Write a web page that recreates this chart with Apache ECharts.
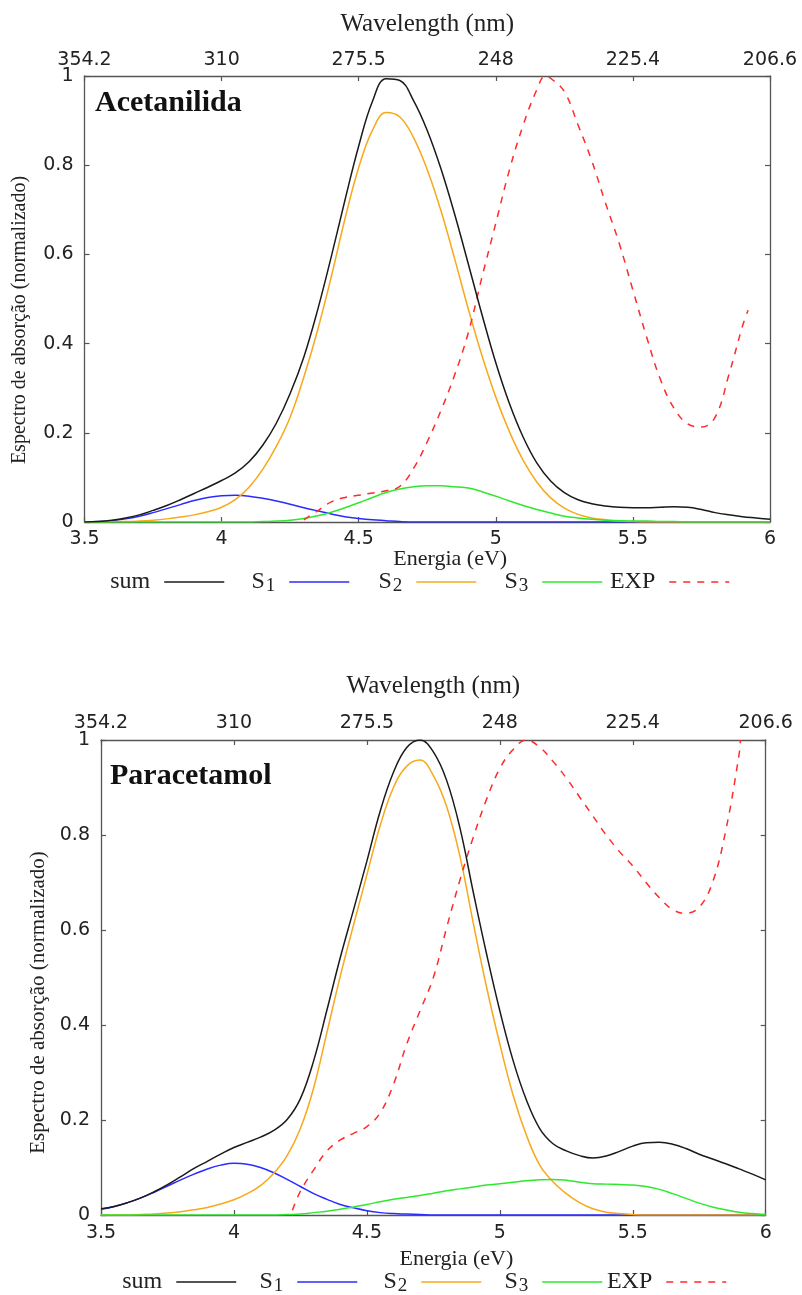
<!DOCTYPE html>
<html><head><meta charset="utf-8">
<script src="https://cdn.jsdelivr.net/npm/echarts@6/dist/echarts.min.js"></script>
<style>html,body{margin:0;padding:0;background:#fff}#c{width:802px;height:1295px}</style>
</head><body><div id="c"></div>
<script>
// ---------- data ----------
const energy = [3.50,3.55,3.60,3.65,3.70,3.75,3.80,3.85,3.90,3.95,4.00,4.05,4.10,4.15,4.20,4.25,4.30,4.35,4.40,4.45,4.50,4.55,4.60,4.65,4.70,4.75,4.80,4.85,4.90,4.95,5.00,5.05,5.10,5.15,5.20,5.25,5.30,5.35,5.40,5.45,5.50,5.55,5.60,5.65,5.70,5.75,5.80,5.85,5.90,5.95,6.00];
const wavelengthLabels = ['354.2','310','275.5','248','225.4','206.6'];
const seriesNames = ['sum','S1','S2','S3','EXP'];

// Acetanilida
const sumA = [0.000,0.001,0.004,0.009,0.016,0.026,0.037,0.050,0.064,0.078,0.093,0.110,0.135,0.172,0.222,0.288,0.370,0.475,0.595,0.722,0.843,0.943,0.994,0.990,0.945,0.878,0.792,0.690,0.578,0.464,0.357,0.265,0.190,0.132,0.092,0.066,0.050,0.041,0.036,0.033,0.032,0.032,0.033,0.034,0.033,0.028,0.021,0.016,0.012,0.009,0.006];
const s1A = [0.000,0.001,0.003,0.007,0.013,0.021,0.030,0.039,0.048,0.055,0.059,0.060,0.058,0.053,0.047,0.040,0.032,0.025,0.018,0.012,0.008,0.005,0.003,0.001,0,0,0,0,0,0,0,0,0,0,0,0,0,0,0,0,0,0,0,0,0,0,0,0,0,0,0];
const s2A = [0,0,0.001,0.001,0.002,0.004,0.007,0.011,0.016,0.023,0.033,0.050,0.078,0.118,0.170,0.235,0.325,0.430,0.550,0.680,0.795,0.878,0.918,0.908,0.862,0.790,0.698,0.590,0.477,0.372,0.280,0.202,0.138,0.089,0.054,0.031,0.017,0.009,0.005,0.002,0.001,0,0,0,0,0,0,0,0,0,0];
const s3A = [0,0,0,0,0,0,0,0,0,0,0,0,0,0.001,0.002,0.004,0.008,0.014,0.022,0.032,0.043,0.055,0.066,0.074,0.079,0.081,0.081,0.079,0.076,0.068,0.058,0.047,0.037,0.028,0.020,0.013,0.009,0.006,0.004,0.003,0.002,0.002,0.001,0.001,0,0,0,0,0,0,0];
const expEnergyA = [4.30,4.35,4.40,4.45,4.50,4.55,4.60,4.65,4.70,4.75,4.80,4.85,4.90,4.95,5.00,5.05,5.10,5.15,5.18,5.20,5.25,5.30,5.35,5.40,5.45,5.50,5.55,5.60,5.65,5.70,5.75,5.80,5.85,5.90,5.92];
const expA = [0.005,0.025,0.045,0.055,0.060,0.065,0.070,0.080,0.120,0.180,0.250,0.330,0.425,0.550,0.670,0.790,0.890,0.970,1.000,0.995,0.965,0.890,0.810,0.715,0.625,0.520,0.415,0.320,0.255,0.220,0.213,0.235,0.330,0.440,0.475];

// Paracetamol
const sumB = [0.013,0.018,0.026,0.036,0.049,0.064,0.081,0.098,0.113,0.128,0.142,0.153,0.164,0.178,0.201,0.245,0.325,0.432,0.542,0.643,0.745,0.850,0.932,0.984,1.000,0.975,0.915,0.815,0.680,0.550,0.430,0.325,0.242,0.182,0.150,0.135,0.125,0.120,0.124,0.134,0.145,0.152,0.153,0.149,0.140,0.128,0.118,0.108,0.097,0.086,0.074];
const s1B = [0.012,0.018,0.026,0.036,0.048,0.061,0.074,0.086,0.097,0.105,0.109,0.107,0.100,0.089,0.075,0.060,0.045,0.033,0.022,0.015,0.009,0.005,0.003,0.002,0.001,0,0,0,0,0,0,0,0,0,0,0,0,0,0,0,0,0,0,0,0,0,0,0,0,0,0];
const s2B = [0,0,0,0.001,0.002,0.004,0.007,0.011,0.016,0.023,0.032,0.045,0.062,0.088,0.125,0.182,0.268,0.385,0.503,0.611,0.716,0.820,0.900,0.945,0.958,0.925,0.860,0.755,0.615,0.480,0.360,0.252,0.168,0.105,0.070,0.045,0.026,0.013,0.006,0.003,0.001,0,0,0,0,0,0,0,0,0,0];
const s3B = [0,0,0,0,0,0,0,0,0,0,0,0,0,0,0.001,0.002,0.005,0.008,0.012,0.017,0.022,0.028,0.033,0.037,0.041,0.046,0.051,0.055,0.059,0.063,0.066,0.069,0.072,0.074,0.075,0.073,0.069,0.066,0.065,0.064,0.063,0.060,0.054,0.045,0.035,0.025,0.017,0.011,0.006,0.003,0.001];
const expEnergyB = [4.22,4.25,4.30,4.35,4.40,4.45,4.50,4.55,4.60,4.65,4.70,4.75,4.80,4.85,4.90,4.95,5.00,5.05,5.10,5.15,5.20,5.25,5.30,5.35,5.40,5.45,5.50,5.55,5.60,5.65,5.70,5.75,5.80,5.85,5.90,5.905];
const expB = [0.010,0.050,0.095,0.135,0.158,0.172,0.186,0.215,0.275,0.360,0.430,0.500,0.605,0.705,0.795,0.875,0.940,0.980,1.000,0.985,0.955,0.920,0.880,0.840,0.800,0.765,0.735,0.700,0.668,0.643,0.635,0.648,0.700,0.810,0.970,1.000];

// ---------- styling ----------
const colors = {sum:'#1a1a1a', S1:'#2b2bff', S2:'#f7a81b', S3:'#2ee82e', EXP:'#ff2a2a'};
const tickFont = 'DejaVu Sans';
const serif = 'Liberation Serif';
const frame = '#555';
const txt = '#222';

const panels = [
  {grid:{left:84.5, top:76, width:685.5, height:446},
   title:'Acetanilida', titlePos:{left:95, top:88},
   xNameGap:26, topNameGap:39, topLabelMargin:6, botLabelMargin:8,
   yNameGap:55, yNamePad:[0,42,0,0], yNameSize:20,
   legendTop:570, legendRight:[577,452,325,199,72],
   data:{sum:[energy,sumA], S1:[energy,s1A], S2:[energy,s2A], S3:[energy,s3A], EXP:[expEnergyA,expA]}},
  {grid:{left:101, top:740, width:664.7, height:475},
   title:'Paracetamol', titlePos:{left:110, top:761},
   xNameGap:33, topNameGap:41, topLabelMargin:7.5, botLabelMargin:8.5,
   yNameGap:52, yNamePad:[0,50,0,0], yNameSize:21,
   legendTop:1270, legendRight:[565,444,320,199,75],
   data:{sum:[energy,sumB], S1:[energy,s1B], S2:[energy,s2B], S3:[energy,s3B], EXP:[expEnergyB,expB]}}
];

const option = {
  backgroundColor:'#fff',
  animation:false,
  grid:[], xAxis:[], yAxis:[], series:[], legend:[], title:[]
};

const axisLine = {show:true, onZero:false, lineStyle:{color:frame, width:1.3}};
const axisTick = {show:true, inside:true, length:5, lineStyle:{color:frame, width:1.2}};

panels.forEach((p, i) => {
  option.grid.push(Object.assign({containLabel:false}, p.grid));
  option.title.push({text:p.title, left:p.titlePos.left, top:p.titlePos.top, padding:0,
    textStyle:{fontFamily:serif, fontWeight:'bold', fontSize:30, color:'#111'}});
  // bottom energy axis
  option.xAxis.push({type:'value', gridIndex:i, position:'bottom', min:3.5, max:6, interval:0.5,
    name:'Energia (eV)', nameLocation:'middle', nameGap:p.xNameGap, nameMoveOverlap:false,
    nameTextStyle:{fontFamily:serif, fontSize:22, color:txt, padding:[0,0,0,46]},
    axisLine, axisTick, splitLine:{show:false},
    axisLabel:{fontFamily:tickFont, fontSize:19, color:txt, margin:p.botLabelMargin, showMinLabel:true, showMaxLabel:true}});
  // top wavelength axis
  option.xAxis.push({type:'value', gridIndex:i, position:'top', min:3.5, max:6, interval:0.5,
    name:'Wavelength (nm)', nameLocation:'middle', nameGap:p.topNameGap, nameMoveOverlap:false,
    nameTextStyle:{fontFamily:serif, fontSize:25, color:txt},
    axisLine, axisTick, splitLine:{show:false},
    axisLabel:{fontFamily:tickFont, fontSize:19, color:txt, margin:p.topLabelMargin, showMinLabel:true, showMaxLabel:true,
      formatter:v => wavelengthLabels[Math.round((v-3.5)/0.5)]}});
  option.yAxis.push({type:'value', gridIndex:i, position:'left', min:0, max:1, interval:0.2,
    name:'Espectro de absorção (normalizado)', nameLocation:'middle', nameGap:p.yNameGap, nameMoveOverlap:false,
    nameTextStyle:{fontFamily:serif, fontSize:p.yNameSize, color:txt, padding:p.yNamePad},
    axisLine, axisTick, splitLine:{show:false},
    axisLabel:{fontFamily:tickFont, fontSize:19, color:txt, margin:11, showMinLabel:true, showMaxLabel:true}});
  option.yAxis.push({type:'value', gridIndex:i, position:'right', min:0, max:1, interval:0.2,
    axisLine, axisTick, splitLine:{show:false}, axisLabel:{show:false}});

  seriesNames.forEach((name, k) => {
    const [xs, ys] = p.data[name];
    option.series.push({
      name, type:'line', xAxisIndex:2*i, yAxisIndex:2*i,
      data: xs.map((x, j) => [x, ys[j]]),
      smooth:0.4, symbol:'none', clip:true,
      lineStyle:{color:colors[name], width:1.5, type: name === 'EXP' ? [7,7] : 'solid'},
      itemStyle:{color:colors[name]},
      z: name === 'sum' ? 3 : 2
    });
    option.legend.push({
      data:[name], right:p.legendRight[k], top:p.legendTop, padding:0, align:'right',
      itemWidth:60, itemHeight:14, itemGap:0, selectedMode:false,
      itemStyle:{opacity:0, borderWidth:0},
      lineStyle:{width:1.5},
      formatter: n => (n === 'sum' || n === 'EXP') ? n : 'S{sub|' + n.slice(1) + '}',
      textStyle:{fontFamily:serif, fontSize:24, color:txt, padding:[0,9,0,0],
        rich:{sub:{fontFamily:serif, fontSize:19, color:txt, padding:[8,0,0,1]}}}
    });
  });
});

const chart = echarts.init(document.getElementById('c'), null, {renderer:'canvas'});
chart.setOption(option);
</script>
</body></html>
